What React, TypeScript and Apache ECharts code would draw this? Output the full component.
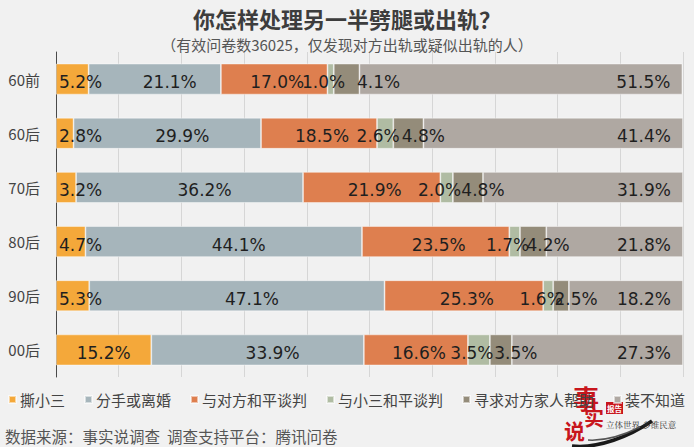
import React, { useEffect, useRef } from "react";
import * as echarts from "echarts";

// Age groups, top to bottom
const categories = ["60前", "60后", "70后", "80后", "90后", "00后"];

// Response options (legend order)
const seriesNames = [
  "撕小三",
  "分手或离婚",
  "与对方和平谈判",
  "与小三和平谈判",
  "寻求对方家人帮助",
  "装不知道",
];

// Share of respondents (%) per age group
const tearMistress = [5.2, 2.8, 3.2, 4.7, 5.3, 15.2];
const breakUp = [21.1, 29.9, 36.2, 44.1, 47.1, 33.9];
const talkPartner = [17.0, 18.5, 21.9, 23.5, 25.3, 16.6];
const talkMistress = [1.0, 2.6, 2.0, 1.7, 1.6, 3.5];
const familyHelp = [4.1, 4.8, 4.8, 4.2, 2.5, 3.5];
const pretend = [51.5, 41.4, 31.9, 21.8, 18.2, 27.3];

const seriesData = [tearMistress, breakUp, talkPartner, talkMistress, familyHelp, pretend];

const colors = ["#f4a83a", "#a6b5bb", "#de7f4f", "#b0bca3", "#948c7a", "#afa8a2"];
// horizontal nudge of the value labels, per series
const labelShift = [0, 15, 3, -7, 15, 0];

const CJK = '"Noto Sans CJK SC", "Noto Sans", sans-serif';
const BG = "#f1f1f1";
const RED = "#c8161d";

// builds one bar item, moving its label where the neighbouring segment is too thin
function barItem(seriesIndex: number, row: number, v: number): any {
  if (seriesIndex === 0 && v < 10) {
    return { value: v, label: { position: "insideLeft", distance: 3 } };
  }
  if (seriesIndex === 4 && talkMistress[row] < 1.5) {
    return { value: v, label: { offset: [32, 3] } };
  }
  return v;
}

const option: any = {
  animation: false,
  backgroundColor: BG,
  title: [
    {
      text: "你怎样处理另一半劈腿或出轨？",
      left: "center",
      top: 2,
      textStyle: { fontFamily: CJK, fontSize: 22, fontWeight: "bold", color: "#3d3d3d" },
    },
    {
      text: "（有效问卷数36025，仅发现对方出轨或疑似出轨的人）",
      left: "center",
      top: 32,
      textStyle: { fontFamily: CJK, fontSize: 15, fontWeight: "normal", color: "#555555" },
    },
  ],
  legend: {
    data: seriesNames,
    left: 3,
    top: 387,
    icon: "rect",
    itemWidth: 7,
    itemHeight: 7,
    itemGap: 19,
    textStyle: { fontFamily: CJK, fontSize: 15, color: "#444444", padding: [0, 0, 0, -1] },
  },
  grid: { left: 56, right: 11, top: 52, bottom: 70, containLabel: false },
  xAxis: {
    type: "value",
    min: 0,
    max: 100,
    interval: 10,
    axisLabel: { show: false },
    axisLine: { show: false },
    axisTick: { show: false },
    splitLine: { show: true, lineStyle: { color: "#d6d6d6", width: 1 } },
  },
  yAxis: {
    type: "category",
    data: categories,
    inverse: true,
    axisLine: { show: true, lineStyle: { color: "#4a4a4a", width: 1 } },
    axisTick: { show: false },
    axisLabel: { fontFamily: CJK, fontSize: 15, color: "#444444", margin: 16 },
  },
  series: seriesNames.map((name, i) => ({
    name,
    type: "bar",
    stack: "total",
    barWidth: 31,
    itemStyle: { color: colors[i], borderColor: "rgba(255,255,255,0.55)", borderWidth: 0.8 },
    label: {
      show: true,
      position: i === 5 ? "insideRight" : "inside",
      distance: i === 5 ? 12 : 5,
      offset: [labelShift[i], 3],
      formatter: (p: any) => Number(p.value).toFixed(1) + "%",
      fontFamily: '"DejaVu Sans", sans-serif',
      fontSize: 17,
      color: "#1f1f1f",
    },
    data: seriesData[i].map((v, row) => barItem(i, row, v)),
  })),
  graphic: [
    {
      type: "text",
      left: 5,
      top: 428,
      style: {
        text: "数据来源：事实说调查  调查支持平台：腾讯问卷",
        font: `15.5px ${CJK}`,
        fill: "#555555",
      },
    },
    // brand mark, lower right
    {
      type: "group",
      z: 100,
      children: [
        {
          type: "bezierCurve",
          shape: { x1: 572, y1: 446, x2: 652, y2: 421, cpx1: 598, cpy1: 449, cpx2: 630, cpy2: 436 },
          style: { stroke: "#1a1a1a", lineWidth: 3.5, fill: null },
        },
        {
          type: "bezierCurve",
          shape: { x1: 588, y1: 440, x2: 640, y2: 427, cpx1: 604, cpy1: 441, cpx2: 624, cpy2: 435 },
          style: { stroke: "#555555", lineWidth: 1.5, fill: null },
        },
        {
          type: "text",
          x: 573,
          y: 384,
          style: { text: "事", font: `bold 26px ${CJK}`, fill: RED },
        },
        {
          type: "text",
          x: 584,
          y: 407,
          style: { text: "实", font: `bold 20px ${CJK}`, fill: RED },
        },
        {
          type: "text",
          x: 564,
          y: 419,
          style: { text: "说", font: `bold 21px ${CJK}`, fill: RED },
        },
        {
          type: "rect",
          shape: { x: 606, y: 402, width: 17, height: 12 },
          style: { fill: RED },
        },
        {
          type: "text",
          x: 614.5,
          y: 408,
          style: {
            text: "报告",
            font: `bold 7.5px ${CJK}`,
            fill: "#ffffff",
            align: "center",
            verticalAlign: "middle",
          },
        },
        {
          type: "text",
          x: 606,
          y: 420,
          style: { text: "立体世界 多维民意", font: `8.5px "Noto Serif CJK SC", ${CJK}`, fill: "#333333" },
        },
      ],
    },
  ],
};

export default function App() {
  const ref = useRef<HTMLDivElement>(null);
  useEffect(() => {
    const chart = echarts.init(ref.current!, null, { renderer: "svg" });
    chart.setOption(option);
    return () => chart.dispose();
  }, []);
  return (
    <div
      ref={ref}
      style={{ position: "fixed", left: 0, top: 0, width: 694, height: 447, background: BG }}
    />
  );
}
